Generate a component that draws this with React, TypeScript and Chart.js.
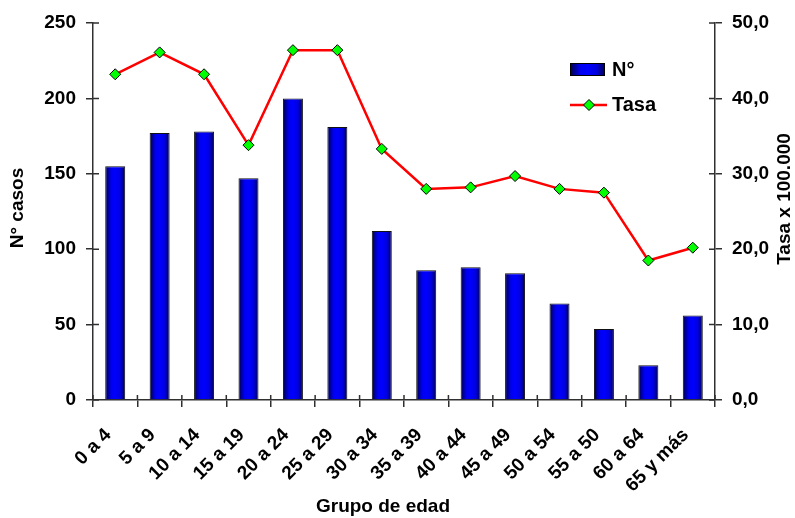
import React, { useEffect, useRef } from "react";
import { Chart, registerables } from "chart.js";

Chart.register(...registerables);

const categories = ["0 a 4", "5 a 9", "10 a 14", "15 a 19", "20 a 24", "25 a 29", "30 a 34", "35 a 39", "40 a 44", "45 a 49", "50 a 54", "55 a 50", "60 a 64", "65 y más"];
const casos = [155, 177, 178, 147, 200, 181, 112, 86, 88, 84, 64, 47, 23, 56];
const tasa = [43.2, 46.1, 43.2, 33.8, 46.4, 46.4, 33.3, 28.0, 28.2, 29.7, 28.0, 27.5, 18.5, 20.2];
const seriesNames = ["N°", "Tasa"];
const axisTitles = { left: "N° casos", right: "Tasa x 100.000", bottom: "Grupo de edad" };

const FONT = '"Liberation Sans", Arial, sans-serif';
const BAR_PCT = 0.45;
const AXIS_COLOR = "#303030";

function blueGradient(ctx: CanvasRenderingContext2D, x0: number, x1: number) {
  const g = ctx.createLinearGradient(x0, 0, x1, 0);
  g.addColorStop(0, "#000048");
  g.addColorStop(0.3, "#0000f0");
  g.addColorStop(0.5, "#0000ff");
  g.addColorStop(0.75, "#0000e0");
  g.addColorStop(1, "#000050");
  return g;
}

export default function App() {
  const ref = useRef<HTMLCanvasElement | null>(null);

  useEffect(() => {
    if (!ref.current) return;

    const extras = {
      id: "extras",
      afterDraw(chart: any) {
        const ctx = chart.ctx as CanvasRenderingContext2D;
        const area = chart.chartArea;
        const ys = chart.scales.y;
        const y1 = chart.scales.y1;
        ctx.save();
        ctx.strokeStyle = AXIS_COLOR;
        ctx.lineWidth = 1.5;
        ctx.beginPath();
        ys.ticks.forEach((t: any) => {
          const py = ys.getPixelForValue(t.value);
          ctx.moveTo(area.left, py);
          ctx.lineTo(area.left + 6, py);
        });
        y1.ticks.forEach((t: any) => {
          const py = y1.getPixelForValue(t.value);
          ctx.moveTo(area.right - 6, py);
          ctx.lineTo(area.right, py);
        });
        const cw = (area.right - area.left) / categories.length;
        for (let i = 0; i <= categories.length; i++) {
          const px = area.left + i * cw;
          ctx.moveTo(px, area.bottom - 5);
          ctx.lineTo(px, area.bottom);
        }
        ctx.stroke();

        // titles
        ctx.fillStyle = "#000";
        ctx.font = `bold 19px ${FONT}`;
        ctx.textAlign = "center";
        ctx.textBaseline = "middle";
        ctx.save();
        ctx.translate(18, 208);
        ctx.rotate(-Math.PI / 2);
        ctx.fillText(axisTitles.left, 0, 0);
        ctx.restore();
        ctx.save();
        ctx.translate(785, 199);
        ctx.rotate(-Math.PI / 2);
        ctx.fillText(axisTitles.right, 0, 0);
        ctx.restore();
        ctx.fillText(axisTitles.bottom, 383, 507);

        // legend
        ctx.fillStyle = blueGradient(ctx, 570, 605);
        ctx.fillRect(570, 63, 35, 13);
        ctx.lineWidth = 1;
        ctx.strokeStyle = "#000";
        ctx.strokeRect(570.5, 63.5, 34, 12);
        ctx.strokeStyle = "#ff0000";
        ctx.lineWidth = 2.5;
        ctx.beginPath();
        ctx.moveTo(570, 105);
        ctx.lineTo(607, 105);
        ctx.stroke();
        ctx.beginPath();
        ctx.moveTo(589, 99.5);
        ctx.lineTo(594.5, 105);
        ctx.lineTo(589, 110.5);
        ctx.lineTo(583.5, 105);
        ctx.closePath();
        ctx.fillStyle = "#00ff00";
        ctx.fill();
        ctx.lineWidth = 1;
        ctx.strokeStyle = "#000";
        ctx.stroke();
        ctx.fillStyle = "#000";
        ctx.font = `bold 20px ${FONT}`;
        ctx.textAlign = "left";
        ctx.fillText(seriesNames[0], 612, 70);
        ctx.fillText(seriesNames[1], 612, 105);
        ctx.restore();
      },
    };

    const chart = new Chart(ref.current, {
      type: "bar",
      data: {
        labels: categories,
        datasets: [
          {
            type: "line",
            label: seriesNames[1],
            data: tasa,
            yAxisID: "y1",
            borderColor: "#ff0000",
            borderWidth: 2.5,
            pointStyle: "rectRot",
            pointRadius: 5.5,
            pointBackgroundColor: "#00ff00",
            pointBorderColor: "#000",
            pointBorderWidth: 1,
            tension: 0,
            order: 0,
          } as any,
          {
            type: "bar",
            label: seriesNames[0],
            data: casos,
            yAxisID: "y",
            backgroundColor: (c: any) => {
              const chartI = c.chart;
              const xs = chartI.scales?.x;
              if (!xs || c.dataIndex == null) return "#0000ff";
              const cx = xs.getPixelForValue(c.dataIndex);
              const w = (xs.width / categories.length) * BAR_PCT;
              if (!isFinite(cx) || !isFinite(w) || w <= 0) return "#0000ff";
              return blueGradient(chartI.ctx, cx - w / 2, cx + w / 2);
            },
            borderColor: "#111",
            borderWidth: 1,
            barPercentage: BAR_PCT,
            categoryPercentage: 1,
            order: 1,
          } as any,
        ],
      },
      options: {
        responsive: false,
        animation: false,
        layout: { padding: { top: 23, left: 0, right: 0, bottom: 0 } },
        plugins: {
          legend: { display: false },
          tooltip: { enabled: false },
        },
        scales: {
          x: {
            grid: { display: true, drawOnChartArea: false, drawTicks: true, tickLength: 7, color: AXIS_COLOR, lineWidth: 1.5, offset: true },
            border: { display: true, color: AXIS_COLOR, width: 1.5 },
            ticks: {
              autoSkip: false,
              maxRotation: 45,
              minRotation: 45,
              padding: 17,
              labelOffset: -7,
              color: "#000",
              font: { family: FONT, size: 19, weight: "bold" },
            },
            afterFit: (s: any) => {
              s.height = 118;
            },
          },
          y: {
            position: "left",
            min: 0,
            max: 250,
            ticks: { stepSize: 50, padding: 10, color: "#000", font: { family: FONT, size: 19, weight: "bold" } },
            grid: { drawOnChartArea: false, drawTicks: true, tickLength: 7, color: AXIS_COLOR, lineWidth: 1.5 },
            border: { display: true, color: AXIS_COLOR, width: 1.5 },
            afterFit: (s: any) => {
              s.width = 93;
            },
          },
          y1: {
            position: "right",
            min: 0,
            max: 50,
            ticks: {
              stepSize: 10,
              padding: 10,
              color: "#000",
              font: { family: FONT, size: 19, weight: "bold" },
              callback: (v: any) => Number(v).toFixed(1).replace(".", ","),
            },
            grid: { drawOnChartArea: false, drawTicks: true, tickLength: 7, color: AXIS_COLOR, lineWidth: 1.5 },
            border: { display: true, color: AXIS_COLOR, width: 1.5 },
            afterFit: (s: any) => {
              s.width = 80;
            },
          },
        },
      },
      plugins: [extras],
    });
    return () => chart.destroy();
  }, []);

  return (
    <div style={{ position: "absolute", left: 0, top: 0, width: 795, height: 518, background: "#fff" }}>
      <canvas ref={ref} width={795} height={518} style={{ display: "block" }} />
    </div>
  );
}
